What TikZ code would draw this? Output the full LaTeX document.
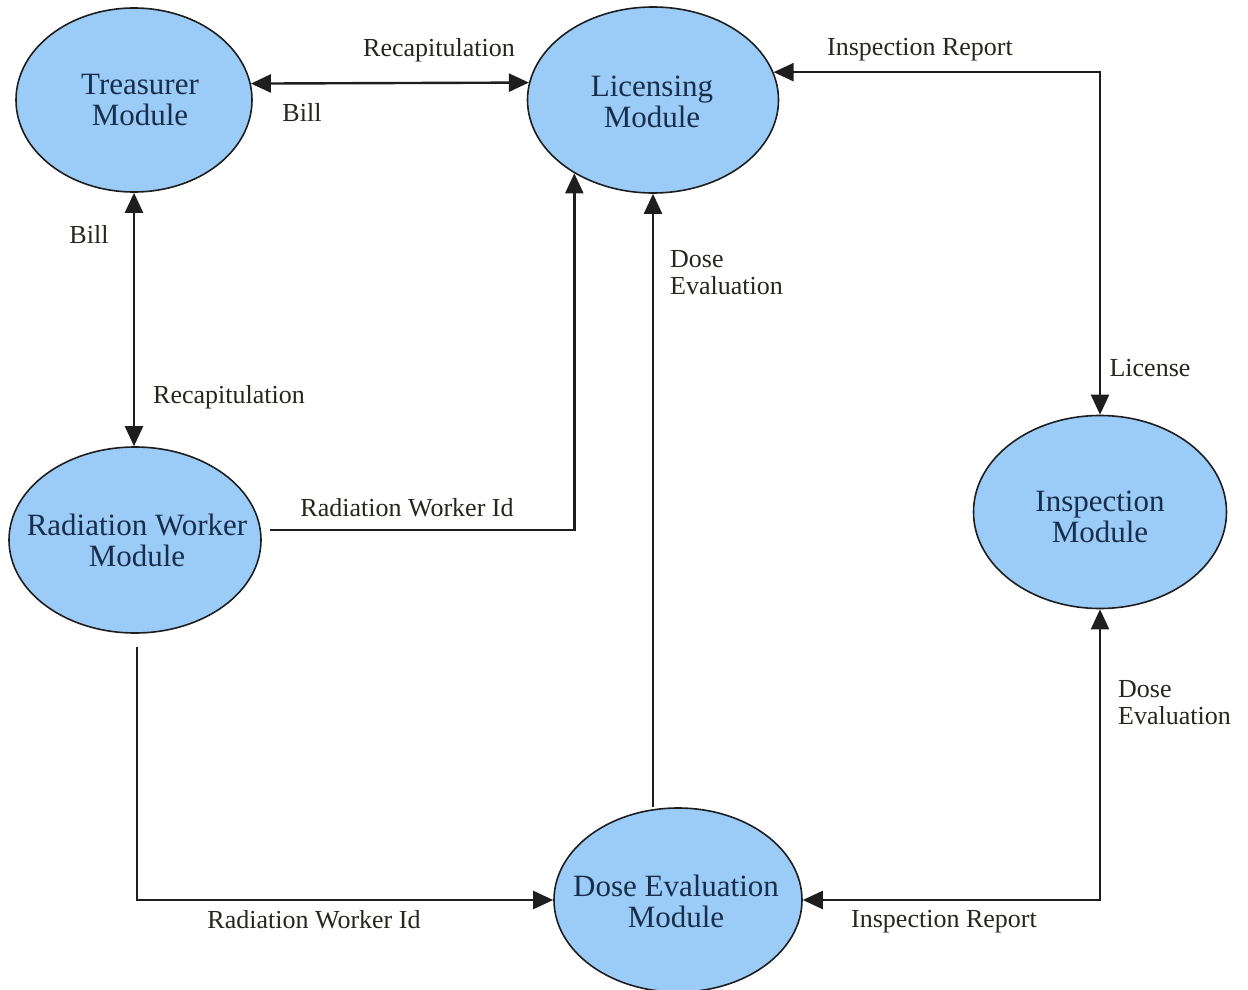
\documentclass[tikz,border=0pt]{standalone}
\usepackage{fontspec}
\IfFontExistsTF{LiberationSerif-Regular.ttf}
  {\setmainfont{LiberationSerif-Regular.ttf}[BoldFont=LiberationSerif-Bold.ttf]}
  {\IfFontExistsTF{DejaVuSerif.ttf}{\setmainfont{DejaVuSerif.ttf}}{}}
\usetikzlibrary{shapes.geometric,arrows.meta,calc}
\definecolor{modfill}{RGB}{155,203,247}
\definecolor{modtext}{RGB}{24,46,74}
\definecolor{lbltext}{RGB}{40,36,32}
\definecolor{edgec}{RGB}{30,30,30}
\begin{document}
\begin{tikzpicture}[x=1pt,y=-1pt,
  >={Triangle[length=20pt,width=18pt]},
  module/.style={ellipse, draw=edgec, line width=1.6pt, fill=modfill, inner sep=0pt},
  modtxt/.style={align=center, text=modtext, inner sep=0pt, font=\fontsize{31}{31}\selectfont},
  lbl/.style={text=lbltext, inner sep=0pt, font=\fontsize{26}{27}\selectfont},
  conn/.style={draw=edgec, line width=2.4pt}
]
\useasboundingbox (0,0) rectangle (1248,990);

% modules
\node[module, minimum width=236pt, minimum height=184pt] (T) at (134,100) {};
\node[module, minimum width=251pt, minimum height=186pt] (L) at (653,100) {};
\node[module, minimum width=252pt, minimum height=186pt] (RW) at (135,540) {};
\node[module, minimum width=253pt, minimum height=193pt] (I) at (1100,512) {};
\node[module, minimum width=248pt, minimum height=184pt] (DE) at (678,900) {};

\node[modtxt] (Tt) at (140,100) {Treasurer\\Module};
\node[modtxt] (Lt) at (652,102) {Licensing\\Module};
\node[modtxt] (RWt) at (137,540) {Radiation Worker\\Module};
\node[modtxt] (It) at (1100,517) {Inspection\\Module};
\node[modtxt] (DEt) at (676,901) {Dose Evaluation\\Module};

% connectors
\draw[conn,<->] (T.8) -- (L.172);
\draw[conn,<->] (T.south) -- (T.south |- RW.north);
\coordinate (rwA) at ($(RW.east)+(8,-10)$);
\draw[conn,->] (rwA) -| (L.223);
\draw[conn,->] (L.south |- DE.north) -- (L.south);
\draw[conn,<->] (L.13) -| (I.north);
\coordinate (rwB) at ($(RW.south)+(2,13)$);
\draw[conn,->] (rwB) |- (DE.west);
\draw[conn,<->] (DE.east) -| (I.south);

% labels
\node[lbl] (l1) at (439,50) {Recapitulation};
\node[lbl] (l2) at (302,113) {Bill};
\node[lbl] (l3) at (920,50) {Inspection Report};
\node[lbl] (l4) at (89,235) {Bill};
\node[lbl, align=left, anchor=west] (l5) at (670,273) {Dose\\Evaluation};
\node[lbl] (l6) at (229,397) {Recapitulation};
\node[lbl] (l7) at (1150,368) {License};
\node[lbl] (l8) at (407,508) {Radiation Worker Id};
\node[lbl, align=left, anchor=west] (l9) at (1118,703) {Dose\\Evaluation};
\node[lbl] (l10) at (314,920) {Radiation Worker Id};
\node[lbl] (l11) at (944,922) {Inspection Report};
\end{tikzpicture}
\end{document}
